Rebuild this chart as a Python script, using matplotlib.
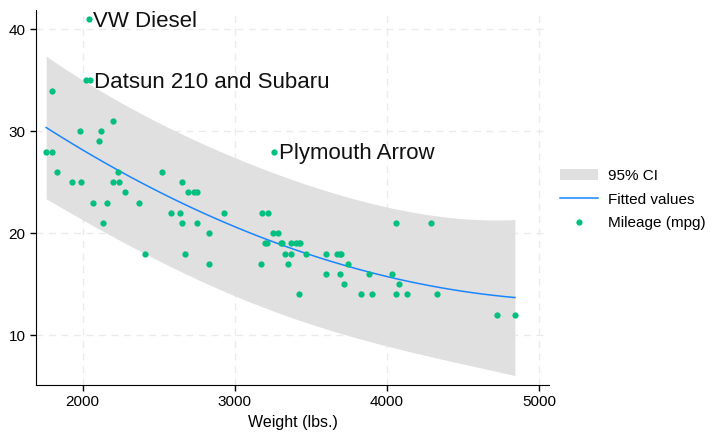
import numpy as np
import matplotlib.pyplot as plt

plt.rcParams['font.family'] = ['Liberation Sans', 'DejaVu Sans']

# 1978 automobile data: weight (lbs.) and mileage (mpg)
weight = [2930, 3350, 2640, 3250, 4080, 3670, 2230, 3280, 3880, 3400,
          4330, 3900, 4290, 2110, 3690, 3180, 3220, 2750, 3430, 2120,
          3600, 3600, 3740, 1800, 2650, 4840, 4720, 3830, 2580, 4060,
          3720, 3370, 4130, 2830, 4060, 3310, 3300, 3690, 3370, 2730,
          4030, 3260, 1800, 2200, 2520, 3330, 3700, 3470, 3210, 3200,
          3420, 2690, 2830, 2070, 2650, 2370, 2020, 2280, 2750, 2130,
          2240, 1760, 1980, 3420, 1830, 2050, 2410, 2200, 2670, 2160,
          2040, 1930, 1990, 3170]
mpg = [22, 17, 22, 20, 15, 18, 26, 20, 16, 19,
       14, 14, 21, 29, 16, 22, 22, 24, 19, 30,
       18, 16, 17, 28, 21, 12, 12, 14, 22, 14,
       15, 18, 14, 20, 21, 19, 19, 18, 19, 24,
       16, 28, 34, 25, 26, 18, 18, 18, 19, 19,
       19, 24, 17, 23, 25, 23, 35, 24, 21, 21,
       25, 28, 30, 14, 26, 35, 18, 31, 18, 23,
       41, 25, 25, 17]

labels = ["VW Diesel", "Datsun 210 and Subaru", "Plymouth Arrow"]
label_x = [2040, 2050, 3260]
label_y = [41, 35, 28]

green = "#00bf7f"
blue = "#1a85ff"
band = "#e0e0e0"

x = np.array(weight, float)
y = np.array(mpg, float)

# quadratic fit with 95% prediction interval (stdf)
xm = x.mean()
z = (x - xm) / 1000.0
X = np.column_stack([np.ones_like(z), z, z**2])
beta, *_ = np.linalg.lstsq(X, y, rcond=None)
resid = y - X @ beta
dof = len(x) - 3
s2 = resid @ resid / dof
XtXi = np.linalg.inv(X.T @ X)
xg = np.linspace(x.min(), x.max(), 100)
zg = (xg - xm) / 1000.0
G = np.column_stack([np.ones_like(zg), zg, zg**2])
yfit = G @ beta
h = np.einsum('ij,jk,ik->i', G, XtXi, G)
se = np.sqrt(s2 * (1 + h))
tcrit = 1.994
lo = yfit - tcrit * se
hi = yfit + tcrit * se

fig = plt.figure(figsize=(7.11, 4.32), dpi=100)
ax = fig.add_axes([36/711, 1 - 385/432, 513/711, 375/432])

for v in [2000, 3000, 4000, 5000]:
    ax.axvline(v, color="#ebebeb", lw=1, ls=(0, (5, 4)), zorder=0)
for v in [10, 20, 30, 40]:
    ax.axhline(v, color="#ebebeb", lw=1, ls=(0, (5, 4)), zorder=0)

ax.fill_between(xg, lo, hi, color=band, lw=0, label="95% CI", zorder=1)
ax.plot(xg, yfit, color=blue, lw=1.1, label="Fitted values", zorder=2)
ax.plot(x, y, "o", color=green, ms=4.5, mec="none", label="Mileage (mpg)", zorder=3)

for t, lx, ly in zip(labels, label_x, label_y):
    ax.annotate(t, (lx, ly), xytext=(3, -1.5), textcoords="offset points",
                va="center", ha="left", fontsize=16, color="#111111")

ax.set_xlim(1693, 5064)
ax.set_ylim(5.1, 41.9)
ax.set_xticks([2000, 3000, 4000, 5000])
ax.set_yticks([10, 20, 30, 40])
ax.tick_params(labelsize=11, length=4, width=1)
ax.set_xlabel("Weight (lbs.)", fontsize=11.5)
for sp in ["top", "right"]:
    ax.spines[sp].set_visible(False)

ax.legend(loc="upper left", bbox_to_anchor=(1.01, 0.592), frameon=False,
          fontsize=11, handlelength=2.5, handletextpad=0.6,
          labelspacing=0.62, borderaxespad=0)

fig.savefig("out.png", dpi=100)
